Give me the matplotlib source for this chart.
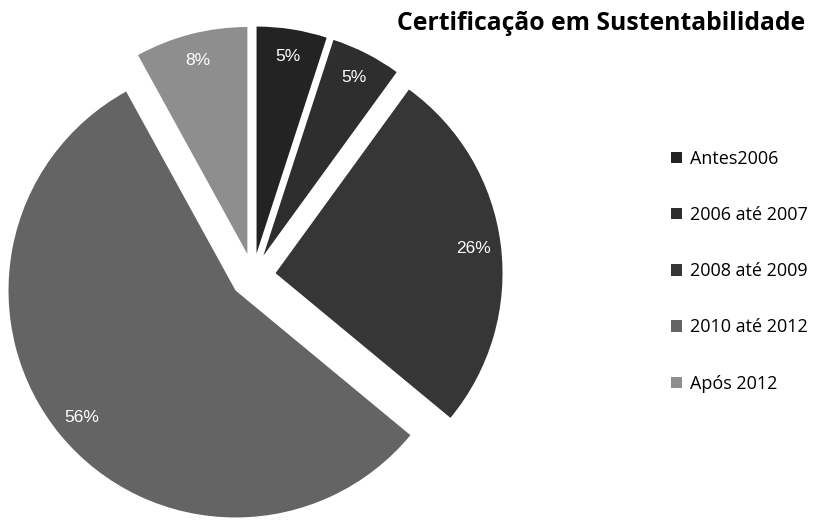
import numpy as np
from matplotlib import pyplot as plt

labels = ['Antes2006', '2006 até 2007', '2008 até 2009', '2010 até 2012', 'Após 2012']
shares = [5, 5, 26, 56, 8]
colors = ['#232323', '#2e2e2e', '#363636', '#646464', '#8e8e8e']
explode = [0.1, 0.1, 0.1, 0.1, 0.1]

W, H = 816, 523
fig = plt.figure(figsize=(W / 100, H / 100), dpi=100)

# pie centre and radius in pixels
cx, cy, r = 253, H - 276, 227
half = 1.2
size = 2 * half * r
ax = fig.add_axes([(cx - size / 2) / W, (cy - size / 2) / H, size / W, size / H])

wedges, texts, autotexts = ax.pie(
    shares, colors=colors, explode=explode, startangle=90, counterclock=False,
    autopct='%d%%', pctdistance=0.88, radius=1,
    textprops=dict(color='white', fontsize=12.5, family='Liberation Sans'))
ax.set_xlim(-half, half)
ax.set_ylim(-half, half)
ax.set_aspect('equal')

fig.text(0.987, 0.955, 'Certificação em Sustentabilidade', ha='right', va='center',
         fontsize=17.8, fontweight='bold', family='Open Sans')

fig.legend(wedges, labels, loc='upper left', bbox_to_anchor=(0.803, 0.745),
           frameon=False, handlelength=0.6, handleheight=0.6, handletextpad=0.45,
           labelspacing=2.12, prop=dict(family='Open Sans', size=13))

fig.savefig('out.png', dpi=100)
